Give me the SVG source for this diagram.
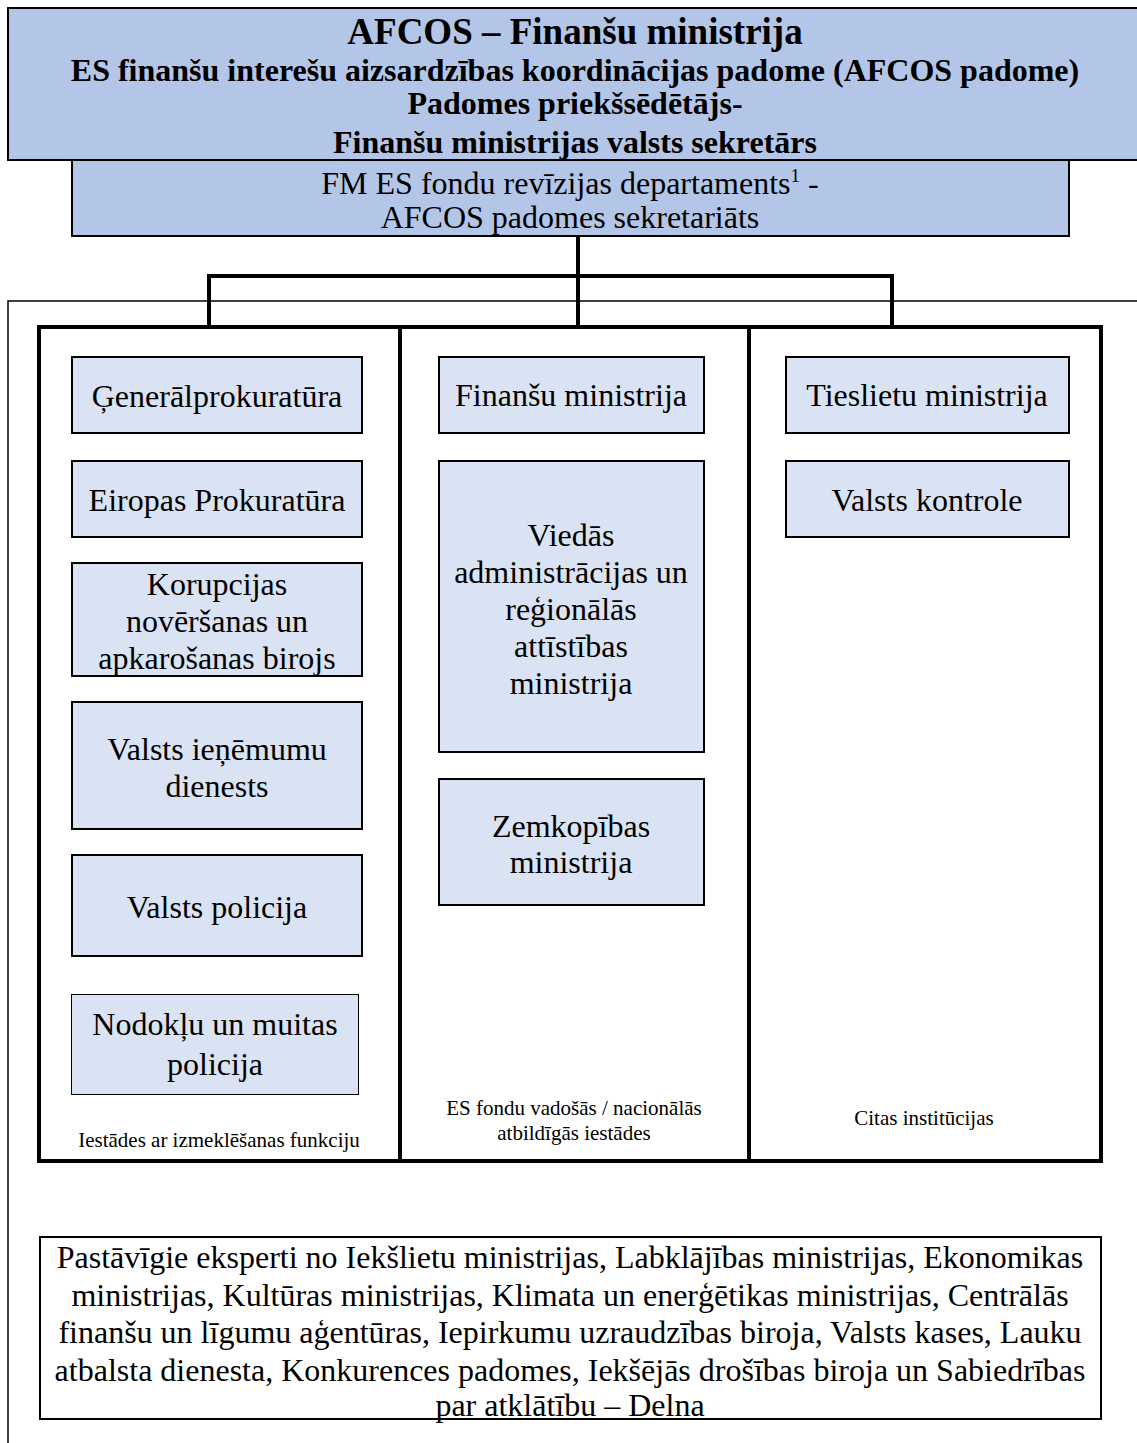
<svg xmlns="http://www.w3.org/2000/svg" width="1137" height="1443" viewBox="0 0 1137 1443">
<style>
.top{fill:#b4c6e7;stroke:#000;stroke-width:2}
.box{fill:#dae3f3;stroke:#000;stroke-width:2}
.thin{fill:#dae3f3;stroke:#000;stroke-width:1}
.conn{fill:none;stroke:#000;stroke-width:4}
.frame{fill:none;stroke:#000;stroke-width:4}
.outline{fill:none;stroke:#000;stroke-width:1.5}
text{font-family:"Liberation Serif","Times New Roman",serif;fill:#000;text-anchor:middle}
.b{font-weight:bold}
.t1{font-size:37px}
.t2{font-size:32px}
.n{font-size:32px}
.s{font-size:21px}
</style>
<rect width="1137" height="1443" fill="#fff"/>
<g id="outer-frame">
<path class="outline" d="M8,1443 V301 H1137"/>
</g>
<g id="afcos">
<rect class="top" x="8" y="8" width="1140" height="152"/>
<text class="b t1" x="575" y="44">AFCOS – Finanšu ministrija</text>
<text class="b t2" x="575" y="81">ES finanšu interešu aizsardzības koordinācijas padome (AFCOS padome)</text>
<text class="b t2" x="575" y="114">Padomes priekšsēdētājs-</text>
<text class="b t2" x="575" y="153">Finanšu ministrijas valsts sekretārs</text>
</g>
<g id="secretariat">
<rect class="top" x="72" y="160" width="997" height="76"/>
<text class="n" x="570" y="194">FM ES fondu revīzijas departaments<tspan font-size="19" dy="-12">1</tspan><tspan dy="12"> -</tspan></text>
<text class="n" x="570" y="228">AFCOS padomes sekretariāts</text>
</g>
<g id="connectors">
<path class="conn" d="M578,236 V327 M209,327 V276 H892 V327"/>
</g>
<g id="groups-frame">
<rect class="frame" x="39" y="327" width="1062" height="834"/>
<path class="frame" d="M400,327 V1161 M749,327 V1161"/>
</g>
<g id="group-investigation">
<text class="s" x="219" y="1147">Iestādes ar izmeklēšanas funkciju</text>
</g>
<g id="group-management">
<text class="s" x="574" y="1115">ES fondu vadošās / nacionālās</text>
<text class="s" x="574" y="1140">atbildīgās iestādes</text>
</g>
<g id="group-other">
<text class="s" x="924" y="1125">Citas institūcijas</text>
</g>
<g id="generalprokuratura">
<rect class="box" x="72" y="357" width="290" height="76"/>
<text class="n" x="217" y="407">Ģenerālprokuratūra</text>
</g>
<g id="eiropas-prokuratura">
<rect class="box" x="72" y="461" width="290" height="76"/>
<text class="n" x="217" y="511">Eiropas Prokuratūra</text>
</g>
<g id="knab">
<rect class="box" x="72" y="563" width="290" height="113"/>
<text class="n" x="217" y="595">Korupcijas</text>
<text class="n" x="217" y="632">novēršanas un</text>
<text class="n" x="217" y="669">apkarošanas birojs</text>
</g>
<g id="vid">
<rect class="box" x="72" y="702" width="290" height="127"/>
<text class="n" x="217" y="760">Valsts ieņēmumu</text>
<text class="n" x="217" y="797">dienests</text>
</g>
<g id="valsts-policija">
<rect class="box" x="72" y="855" width="290" height="101"/>
<text class="n" x="217" y="918">Valsts policija</text>
</g>
<g id="nmp">
<rect class="thin" x="71.5" y="994.5" width="287" height="100"/>
<text class="n" x="215" y="1035">Nodokļu un muitas</text>
<text class="n" x="215" y="1075">policija</text>
</g>
<g id="finansu-ministrija">
<rect class="box" x="439" y="357" width="265" height="76"/>
<text class="n" x="571" y="406">Finanšu ministrija</text>
</g>
<g id="varam">
<rect class="box" x="439" y="461" width="265" height="291"/>
<text class="n" x="571" y="546">Viedās</text>
<text class="n" x="571" y="583">administrācijas un</text>
<text class="n" x="571" y="620">reģionālās</text>
<text class="n" x="571" y="657">attīstības</text>
<text class="n" x="571" y="694">ministrija</text>
</g>
<g id="zemkopibas-ministrija">
<rect class="box" x="439" y="779" width="265" height="126"/>
<text class="n" x="571" y="837">Zemkopības</text>
<text class="n" x="571" y="873">ministrija</text>
</g>
<g id="tieslietu-ministrija">
<rect class="box" x="786" y="357" width="283" height="76"/>
<text class="n" x="927" y="406">Tieslietu ministrija</text>
</g>
<g id="valsts-kontrole">
<rect class="box" x="786" y="461" width="283" height="76"/>
<text class="n" x="927" y="511">Valsts kontrole</text>
</g>
<g id="experts">
<rect x="40" y="1237" width="1061" height="182" fill="#fff" stroke="#000" stroke-width="2"/>
<text class="n" x="570" y="1268">Pastāvīgie eksperti no Iekšlietu ministrijas, Labklājības ministrijas, Ekonomikas</text>
<text class="n" x="570" y="1306">ministrijas, Kultūras ministrijas, Klimata un enerģētikas ministrijas, Centrālās</text>
<text class="n" x="570" y="1343">finanšu un līgumu aģentūras, Iepirkumu uzraudzības biroja, Valsts kases, Lauku</text>
<text class="n" x="570" y="1381">atbalsta dienesta, Konkurences padomes, Iekšējās drošības biroja un Sabiedrības</text>
<text class="n" x="570" y="1416">par atklātību – Delna</text>
</g>
</svg>
